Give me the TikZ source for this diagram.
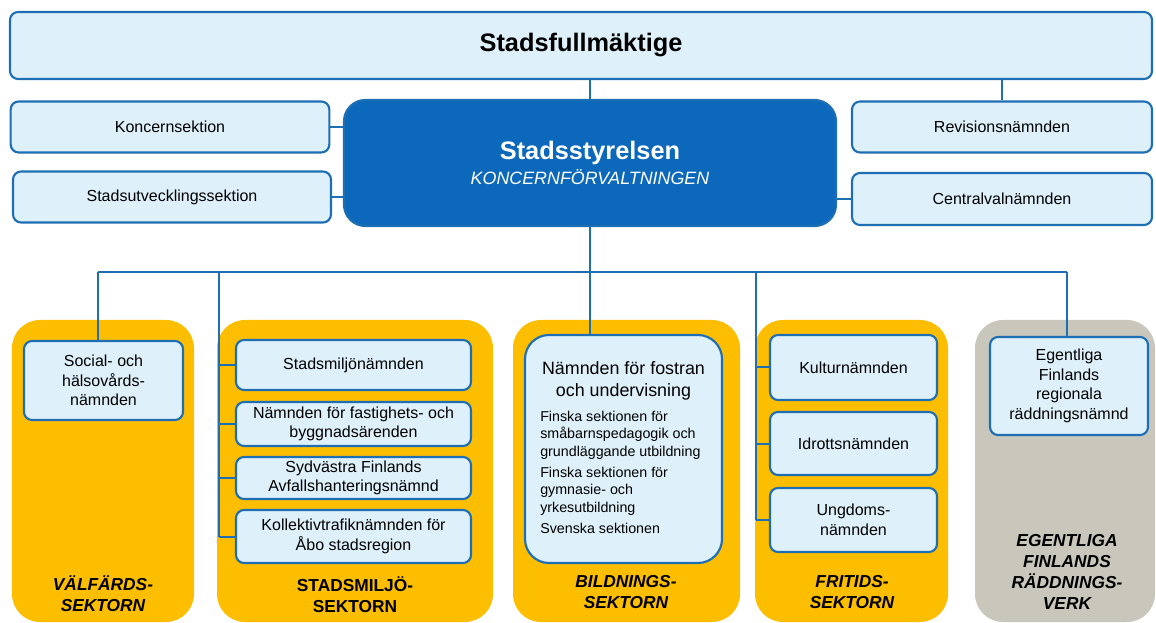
\documentclass[tikz,border=0pt]{standalone}
\usepackage{fontspec}
\setmainfont{Liberation Sans}
\usepackage{xcolor}
\usetikzlibrary{positioning,calc}

\definecolor{cblue}{RGB}{30,110,180}
\definecolor{cdark}{RGB}{12,104,186}
\definecolor{clight}{RGB}{222,240,250}
\definecolor{cyellow}{RGB}{253,190,0}
\definecolor{cgray}{RGB}{201,199,188}

\begin{document}
\begin{tikzpicture}[
    x=0.75pt, y=-0.75pt,
    box/.style={rectangle, draw=cblue, fill=clight, line width=1.6pt, rounded corners=6pt, align=center, inner sep=2pt,
        font=\fontsize{12}{14.6}\selectfont},
    board/.style={rectangle, draw=cblue, fill=cdark, line width=1.6pt, rounded corners=16pt, align=center, text=white},
    sector/.style={rectangle, fill=cyellow, rounded corners=21pt, minimum height=226.5pt},
    seclabel/.style={align=center, font=\fontsize{13}{15.75}\selectfont\bfseries\itshape},
    link/.style={draw=cblue, line width=1.5pt}
]
\useasboundingbox (0,0) rectangle (1156,623);
% Sector panels
\node[sector, minimum width=136.5pt] (valf) at (103,471) {};
\node[sector, minimum width=207pt] (smiljo) at (355,471) {};
\node[sector, minimum width=170.25pt] (bildn) at (626.5,471) {};
\node[sector, minimum width=144.75pt] (frit) at (851.5,471) {};
\node[sector, fill=cgray, minimum width=135pt] (radd) at (1065,471) {};
% Sector names
\node[seclabel] (valflbl) at (103,594) {VÄLFÄRDS-\\SEKTORN};
\node[seclabel, font=\fontsize{13}{15.75}\selectfont\bfseries] (smiljolbl) at (355,595) {STADSMILJÖ-\\SEKTORN};
\node[seclabel] (bildnlbl) at (626,592) {BILDNINGS-\\SEKTORN};
\node[seclabel] (fritlbl) at (852,592) {FRITIDS-\\SEKTORN};
\node[seclabel] (raddlbl) at (1067,572) {EGENTLIGA\\FINLANDS\\RÄDDNINGS-\\VERK};
% Top level
\node[box, minimum width=856.5pt, minimum height=50.25pt, font=\fontsize{19}{22}\selectfont\bfseries] (council) at (581,45.5) {Stadsfullmäktige};
\node[board, minimum width=369pt, minimum height=94.5pt] (board) at (590,163)
    {{\fontsize{19}{22}\selectfont\bfseries Stadsstyrelsen}\\[2pt]{\fontsize{13.4}{16}\selectfont\itshape KONCERNFÖRVALTNINGEN}};
\node[box, minimum width=239pt, minimum height=38.25pt] (koncern) at (170,127) {Koncernsektion};
\node[box, minimum width=238.5pt, minimum height=38.25pt] (stadsutv) at (172,197) {Stadsutvecklingssektion};
\node[box, minimum width=225pt, minimum height=38.25pt] (revision) at (1002,127) {Revisionsnämnden};
\node[box, minimum width=225pt, minimum height=39pt] (central) at (1002,199) {Centralvalnämnden};
% Boards in the sectors
\node[box, minimum width=119.25pt, minimum height=59.25pt] (social) at (103.5,380.5) {Social- och\\hälsovårds-\\nämnden};
\node[box, minimum width=176.25pt, minimum height=37.5pt] (sm1) at (353.5,365) {Stadsmiljönämnden};
\node[box, minimum width=176.25pt, minimum height=33pt] (sm2) at (353.5,424) {Nämnden för fastighets- och\\byggnadsärenden};
\node[box, minimum width=176.25pt, minimum height=31.5pt] (sm3) at (353.5,478) {Sydvästra Finlands\\Avfallshanteringsnämnd};
\node[box, minimum width=176.25pt, minimum height=39.75pt] (sm4) at (353.5,536.5) {Kollektivtrafiknämnden för\\Åbo stadsregion};
\node[box, rounded corners=18pt, minimum width=147.75pt, minimum height=171pt] (bnam) at (623.5,449) {};
\node[align=center, font=\fontsize{13.4}{16.5}\selectfont] (btitle) at (623.5,381) {Nämnden för fostran\\och undervisning};
\node[align=left, anchor=north west, inner sep=0pt, font=\fontsize{10.7}{13}\selectfont] (blist) at (540,411)
    {Finska sektionen för\\småbarnspedagogik och\\grundläggande utbildning\\[3pt]Finska sektionen för\\gymnasie- och\\yrkesutbildning\\[3pt]Svenska sektionen};
\node[box, minimum width=125.25pt, minimum height=48.75pt] (fr1) at (853.5,367.5) {Kulturnämnden};
\node[box, minimum width=125.25pt, minimum height=47.25pt] (fr2) at (853.5,443.5) {Idrottsnämnden};
\node[box, minimum width=125.25pt, minimum height=48pt] (fr3) at (853.5,520) {Ungdoms-\\nämnden};
\node[box, minimum width=118.5pt, minimum height=73.5pt] (rnam) at (1069,386) {Egentliga\\Finlands\\regionala\\räddningsnämnd};
% Bus and trunks
\coordinate (busL) at (98,272);
\coordinate (busR) at (1067,272);
\coordinate (smtrunk) at (219,272);
\coordinate (frtrunk) at (756,272);
% Connectors top
\draw[link] (board.north |- council.south) -- (board.north);
\draw[link] (revision.north |- council.south) -- (revision.north);
\draw[link] (koncern.east) -- (koncern.east -| board.west);
\draw[link] (stadsutv.east) -- (stadsutv.east -| board.west);
\draw[link] (central.west) -- (central.west -| board.east);
% Connectors to the sectors
\draw[link] (busL) -- (busR);
\draw[link] (board.south) -- (board.south |- bnam.north);
\draw[link] (busL) -- (busL |- social.north);
\draw[link] (busR) -- (busR |- rnam.north);
\draw[link] (smtrunk) -- (smtrunk |- sm4.west);
\foreach \n in {sm1,sm2,sm3,sm4}
    \draw[link] (smtrunk |- \n.west) -- (\n.west);
\draw[link] (frtrunk) -- (frtrunk |- fr3.west);
\foreach \n in {fr1,fr2,fr3}
    \draw[link] (frtrunk |- \n.west) -- (\n.west);
\end{tikzpicture}
\end{document}
